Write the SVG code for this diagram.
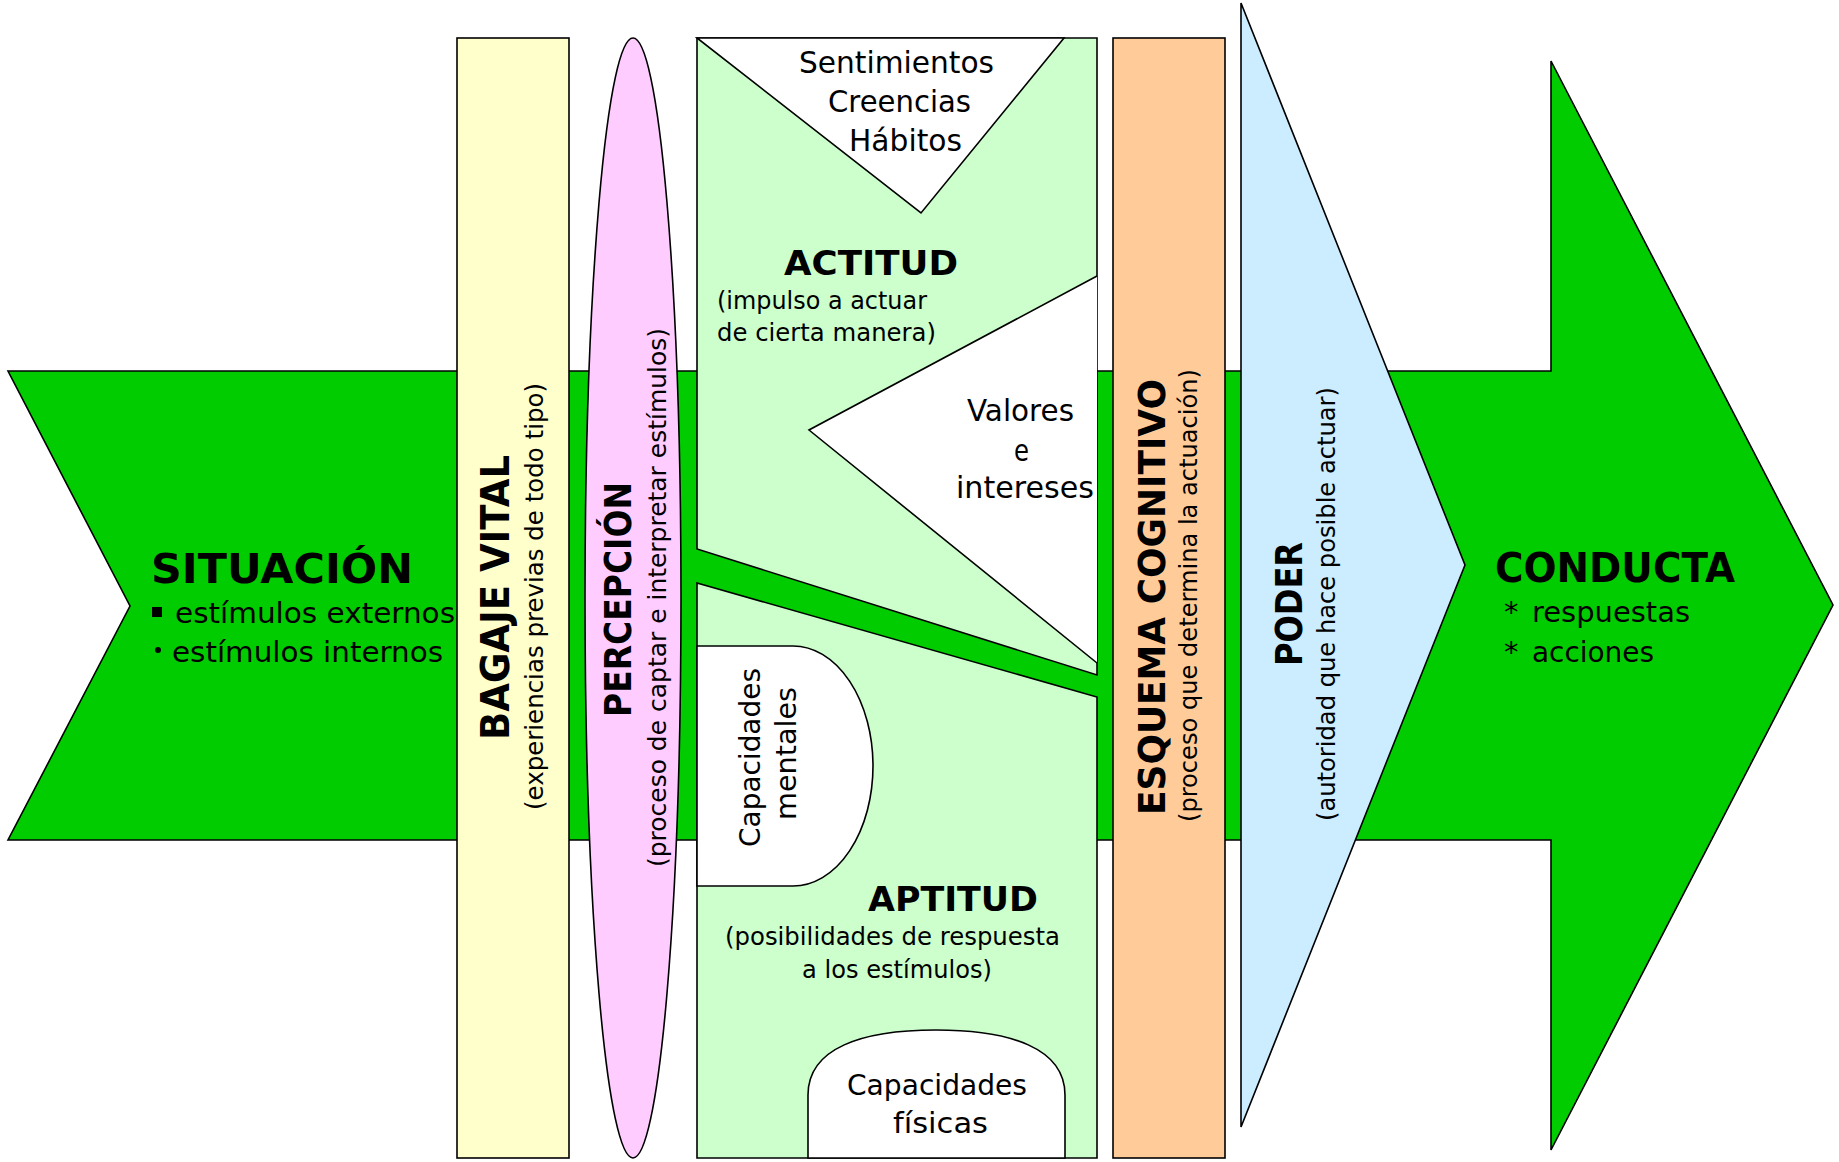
<svg xmlns="http://www.w3.org/2000/svg" width="1839" height="1162" viewBox="0 0 1839 1162">
<style>
.s{stroke:#000;stroke-width:1.6;stroke-linejoin:miter}
.t{font-family:"DejaVu Sans","Liberation Sans",sans-serif;fill:#000}
.b{font-weight:bold}
.m{text-anchor:middle}
</style>
<rect x="0" y="0" width="1839" height="1162" fill="#fff"/>
<g id="flujo">
<path class="s" fill="#00CC00" d="M8,371 H1551 V61 L1833,605 L1551,1150 V840 H8 L130,606 Z"/>
</g>
<g id="connectors"></g>
<g id="situacion">
<text class="t b" x="151" y="583" font-size="40" textLength="262" lengthAdjust="spacingAndGlyphs">SITUACIÓN</text>
<rect x="152" y="607" width="10" height="10" fill="#000"/>
<text class="t" x="175" y="623" font-size="29" textLength="280" lengthAdjust="spacingAndGlyphs">estímulos externos</text>
<circle cx="158" cy="650" r="3" fill="#000"/>
<text class="t" x="172" y="662" font-size="29" textLength="271" lengthAdjust="spacingAndGlyphs">estímulos internos</text>
</g>
<g id="bagaje">
<rect class="s" x="457" y="38" width="112" height="1120" fill="#FFFFCC"/>
<text class="t b" transform="translate(509,740) rotate(-90)" font-size="39" textLength="285" lengthAdjust="spacingAndGlyphs">BAGAJE VITAL</text>
<text class="t" transform="translate(543,810) rotate(-90)" font-size="25" textLength="427" lengthAdjust="spacingAndGlyphs">(experiencias previas de todo tipo)</text>
</g>
<g id="percepcion">
<ellipse class="s" cx="633" cy="598" rx="48" ry="560" fill="#FFCCFF"/>
<text class="t b" transform="translate(631,717) rotate(-90)" font-size="38" textLength="235" lengthAdjust="spacingAndGlyphs">PERCEPCIÓN</text>
<text class="t" transform="translate(666,867) rotate(-90)" font-size="25" textLength="539" lengthAdjust="spacingAndGlyphs">(proceso de captar e interpretar estímulos)</text>
</g>
<g id="actitud">
<path class="s" fill="#CCFFCC" d="M697,38 H1097 V675 L697,549 Z"/>
<path class="s" fill="#fff" d="M697,38 H1064 L921,213 Z"/>
<path class="s" fill="#fff" d="M1097,276 L809,430 L1097,663"/>
<text class="t" x="799" y="73" font-size="30" textLength="195" lengthAdjust="spacingAndGlyphs">Sentimientos</text>
<text class="t" x="828" y="112" font-size="30" textLength="143" lengthAdjust="spacingAndGlyphs">Creencias</text>
<text class="t" x="849" y="151" font-size="30" textLength="113" lengthAdjust="spacingAndGlyphs">Hábitos</text>
<text class="t b" x="784" y="275" font-size="34" textLength="174" lengthAdjust="spacingAndGlyphs">ACTITUD</text>
<text class="t" x="717" y="309" font-size="25" textLength="210" lengthAdjust="spacingAndGlyphs">(impulso a actuar</text>
<text class="t" x="717" y="341" font-size="25" textLength="219" lengthAdjust="spacingAndGlyphs">de cierta manera)</text>
<text class="t" x="967" y="421" font-size="30" textLength="107" lengthAdjust="spacingAndGlyphs">Valores</text>
<text class="t" x="1014" y="461" font-size="30" textLength="15" lengthAdjust="spacingAndGlyphs">e</text>
<text class="t" x="956" y="498" font-size="30" textLength="138" lengthAdjust="spacingAndGlyphs">intereses</text>
</g>
<g id="aptitud">
<path class="s" fill="#CCFFCC" d="M697,583 L1097,697 V1158 H697 Z"/>
<path class="s" fill="#fff" d="M697,646 H793 A80,120 0 0 1 793,886 H697 Z"/>
<path class="s" fill="#fff" d="M808,1158 V1095 C808,1048 862,1030 936,1030 C1010,1030 1065,1048 1065,1095 V1158 Z"/>
<text class="t" transform="translate(760,847) rotate(-90)" font-size="29" textLength="179" lengthAdjust="spacingAndGlyphs">Capacidades</text>
<text class="t" transform="translate(796,820) rotate(-90)" font-size="29" textLength="133" lengthAdjust="spacingAndGlyphs">mentales</text>
<text class="t b" x="868" y="911" font-size="34" textLength="170" lengthAdjust="spacingAndGlyphs">APTITUD</text>
<text class="t" x="725" y="945" font-size="25" textLength="335" lengthAdjust="spacingAndGlyphs">(posibilidades de respuesta</text>
<text class="t" x="802" y="978" font-size="25" textLength="190" lengthAdjust="spacingAndGlyphs">a los estímulos)</text>
<text class="t" x="847" y="1095" font-size="28" textLength="180" lengthAdjust="spacingAndGlyphs">Capacidades</text>
<text class="t" x="893" y="1133" font-size="28" textLength="95" lengthAdjust="spacingAndGlyphs">físicas</text>
</g>
<g id="esquema">
<rect class="s" x="1113" y="38" width="112" height="1120" fill="#FFCC99"/>
<text class="t b" transform="translate(1165,815) rotate(-90)" font-size="38" textLength="436" lengthAdjust="spacingAndGlyphs">ESQUEMA COGNITIVO</text>
<text class="t" transform="translate(1197,822) rotate(-90)" font-size="25" textLength="453" lengthAdjust="spacingAndGlyphs">(proceso que determina la actuación)</text>
</g>
<g id="poder">
<path class="s" fill="#CCECFF" d="M1241,3 L1465,565 L1241,1127 Z"/>
<text class="t b" transform="translate(1302,666) rotate(-90)" font-size="38" textLength="124" lengthAdjust="spacingAndGlyphs">PODER</text>
<text class="t" transform="translate(1335,821) rotate(-90)" font-size="25" textLength="434" lengthAdjust="spacingAndGlyphs">(autoridad que hace posible actuar)</text>
</g>
<g id="conducta">
<text class="t b" x="1495" y="582" font-size="40" textLength="240" lengthAdjust="spacingAndGlyphs">CONDUCTA</text>
<text class="t" x="1504" y="622" font-size="29">*</text>
<text class="t" x="1532" y="622" font-size="29" textLength="158" lengthAdjust="spacingAndGlyphs">respuestas</text>
<text class="t" x="1504" y="662" font-size="29">*</text>
<text class="t" x="1532" y="662" font-size="29" textLength="122" lengthAdjust="spacingAndGlyphs">acciones</text>
</g>
</svg>
